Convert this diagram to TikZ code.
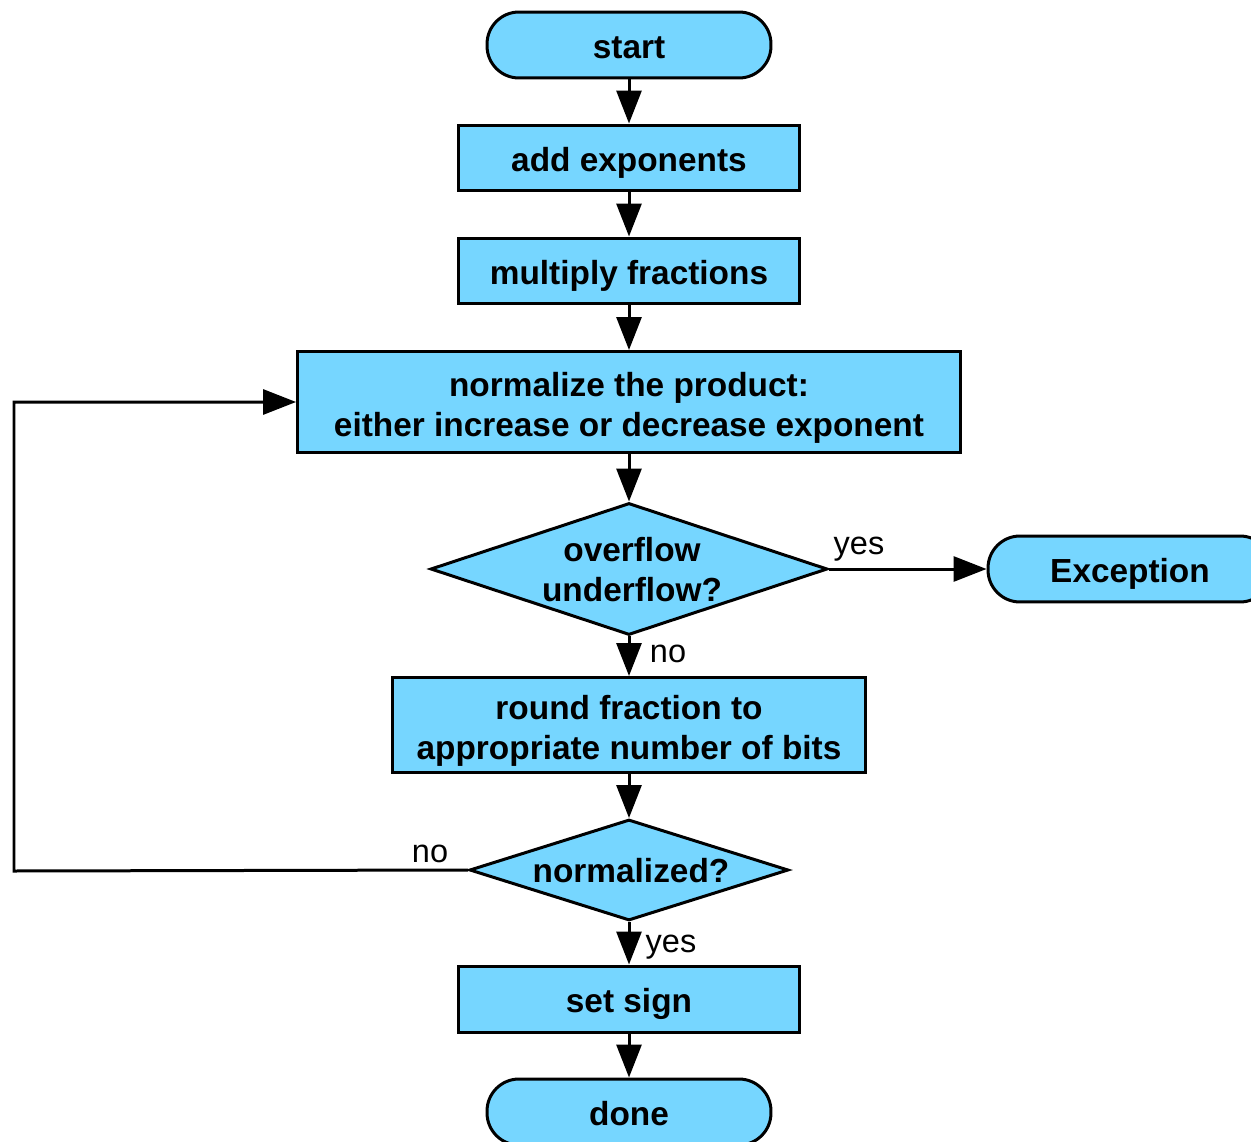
\documentclass[tikz,border=0pt]{standalone}
\usepackage{fontspec}
\setmainfont{Liberation Sans}
\usetikzlibrary{arrows.meta,shapes.geometric}
\definecolor{boxblue}{HTML}{76D6FF}
\newcommand\onestrut{\rule[-0.14cm]{0pt}{0.82cm}}
\newcommand\firststrut{\rule{0pt}{0.73cm}}
\begin{document}
\begin{tikzpicture}[x=0.02cm,y=-0.02cm,
  every node/.style={font=\fontsize{19}{22.8}\selectfont},
  base/.style={draw=black,fill=boxblue,line width=0.06cm,inner sep=0pt,
    font=\fontsize{19}{22.8}\selectfont\bfseries,align=center},
  term/.style={base,rectangle,rounded corners=0.64cm,minimum width=5.68cm,minimum height=1.32cm},
  proc/.style={base,rectangle,minimum width=6.84cm,minimum height=1.32cm},
  dtext/.style={font=\fontsize{19}{22.8}\selectfont\bfseries,align=center,inner sep=0pt},
  lbl/.style={font=\fontsize{18.5}{22}\selectfont,inner sep=0pt},
  arr/.style={line width=0.06cm,-{Triangle[length=0.66cm,width=0.5cm]}}
]
\clip (0,0) rectangle (1251,1142);
\useasboundingbox (0,0) rectangle (1251,1142);

\node[term] (start) at (629,45) {\onestrut start};
\node[proc] (add) at (629,158) {\onestrut add exponents};
\node[proc] (mul) at (629,271) {\onestrut multiply fractions};
\node[proc,minimum width=13.26cm,minimum height=2.02cm] (norm) at (629,402)
  {\firststrut normalize the product:\\either increase or decrease exponent};
\node[base,diamond,minimum width=7.94cm,minimum height=2.64cm] (ovf) at (629,569) {};
\node[dtext] (ovft) at (632,570) {overflow\\underflow?};
\node[term] (exc) at (1130,569) {\onestrut Exception};
\node[proc,minimum width=9.48cm,minimum height=1.9cm] (round) at (629,725)
  {\firststrut round fraction to\\appropriate number of bits};
\node[base,diamond,minimum width=6.38cm,minimum height=2.02cm] (nrm) at (629,870) {};
\node[dtext] (nrmt) at (631,871) {normalized?};
\node[proc] (sign) at (629,999) {\onestrut set sign};
\node[term] (done) at (629,1112) {\onestrut done};

\coordinate (loopc) at (14,871);

\draw[arr] (start) -- (add);
\draw[arr] (add) -- (mul);
\draw[arr] (mul) -- (norm);
\draw[arr] (norm) -- (ovf.north);
\draw[arr] (ovf.south) -- (round);
\draw[arr] (ovf.east) -- (exc);
\draw[arr] (round) -- (nrm.north);
\draw[arr] (nrm.south) -- (sign);
\draw[arr] (sign) -- (done);
\draw[arr] (nrm.west) -- (loopc) |- (norm.west);

\node[lbl] (l1) at (859,549) {yes};
\node[lbl] (l2) at (668,654) {no};
\node[lbl] (l3) at (430,854) {no};
\node[lbl] (l4) at (671,947) {yes};
\end{tikzpicture}
\end{document}
